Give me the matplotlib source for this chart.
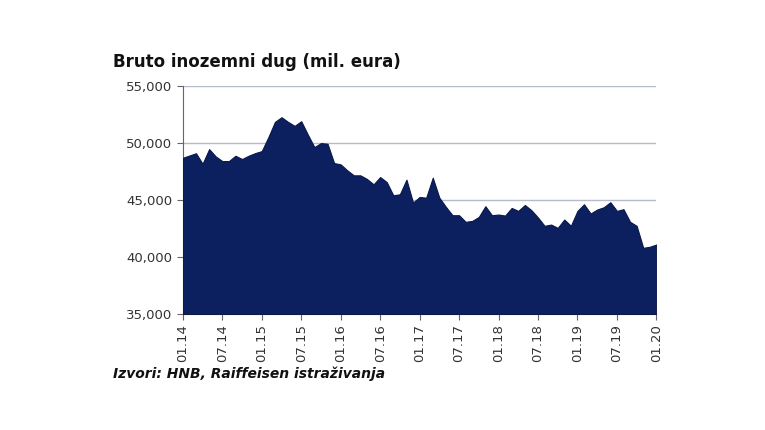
import matplotlib.pyplot as plt
import numpy as np

# Monthly gross external debt, Jan 2014 - Jan 2020 (mil. EUR)
values = [48700, 48900, 49100, 48180, 49460, 48820, 48410, 48410, 48880, 48590,
          48880, 49110, 49290, 50510, 51850, 52260, 51850, 51500, 51910, 50740,
          49640, 49990, 49930, 48240, 48120, 47600, 47160, 47160, 46840, 46370,
          47010, 46570, 45410, 45500, 46780, 44770, 45260, 45200, 46950, 45200,
          44390, 43660, 43660, 43080, 43160, 43510, 44450, 43660, 43720, 43630,
          44300, 44040, 44560, 44100, 43460, 42730, 42840, 42550, 43280, 42730,
          44040, 44620, 43810, 44160, 44360, 44800, 44040, 44190, 43080, 42730,
          40800, 40890, 41090]
tick_labels = ['01.14', '07.14', '01.15', '07.15', '01.16', '07.16', '01.17',
               '07.17', '01.18', '07.18', '01.19', '07.19', '01.20']
y_ticks = [35000, 40000, 45000, 50000, 55000]

x = np.arange(len(values))

fig = plt.figure(figsize=(7.65, 4.3), dpi=100)
ax = fig.add_axes([0.239, 0.270, 0.619, 0.530])

ax.fill_between(x, values, 35000, color='#0c1f5e', edgecolor='#0a1848', linewidth=0.8, zorder=3)

ax.set_xlim(0, len(values) - 1)
ax.set_ylim(35000, 55000)
ax.set_yticks(y_ticks)
ax.set_yticklabels([f'{v:,}' for v in y_ticks], fontsize=9.5, color='#333333')
ax.set_xticks(x[::6])
ax.set_xticklabels(tick_labels, rotation=90, fontsize=9.5, color='#333333')

ax.grid(axis='y', color='#b4bccc', linewidth=1.0, zorder=1)
for s in ['top', 'right']:
    ax.spines[s].set_visible(False)
ax.spines['left'].set_color('#666666')
ax.spines['bottom'].set_color('#666666')
ax.tick_params(axis='both', color='#666666', length=4)

fig.text(0.148, 0.845, 'Bruto inozemni dug (mil. eura)', fontsize=12, fontweight='bold', color='#111111')
fig.text(0.148, 0.12, 'Izvori: HNB, Raiffeisen istraživanja', fontsize=10, fontweight='bold',
         style='italic', color='#111111')

fig.savefig('out.png', dpi=100)
